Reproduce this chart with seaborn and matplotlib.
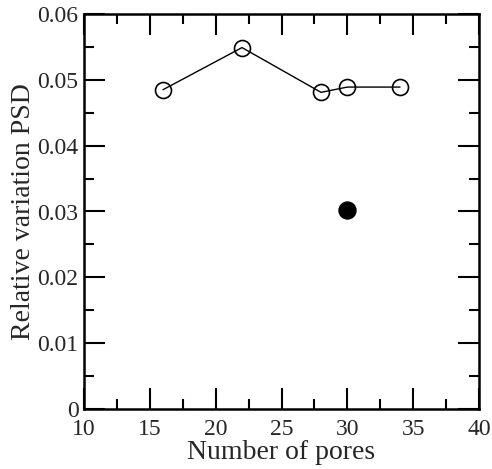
import matplotlib
matplotlib.use("Agg")
import matplotlib.pyplot as plt
from matplotlib.ticker import MultipleLocator, FuncFormatter
import pandas as pd
import seaborn as sns

# data
pores = [16, 22, 28, 30, 34]
rel_var = [0.0485, 0.0549, 0.0481, 0.0489, 0.0489]
single_pores = [30]
single_var = [0.0302]

df = pd.DataFrame({"pores": pores, "var": rel_var})
df_single = pd.DataFrame({"pores": single_pores, "var": single_var})

sns.set_style("ticks")
plt.rcParams["font.family"] = ["Liberation Serif", "DejaVu Serif"]

fig = plt.figure(figsize=(4.92, 4.69), dpi=100)
ax = fig.add_axes([84 / 492, 1 - 409 / 469, 395 / 492, 395 / 469])

sns.lineplot(data=df, x="pores", y="var", ax=ax, color="black", lw=1,
             marker="o", markersize=11.5, markerfacecolor="none",
             markeredgecolor="black", markeredgewidth=1.2)
sns.scatterplot(data=df_single, x="pores", y="var", ax=ax, color="black",
                s=150, edgecolor="black")

ax.set_xlim(10, 40)
ax.set_ylim(0, 0.06)
ax.xaxis.set_major_locator(MultipleLocator(5))
ax.xaxis.set_minor_locator(MultipleLocator(2.5))
ax.yaxis.set_major_locator(MultipleLocator(0.01))
ax.yaxis.set_minor_locator(MultipleLocator(0.005))
ax.yaxis.set_major_formatter(FuncFormatter(lambda v, p: "0" if abs(v) < 1e-9 else f"{v:.2f}"))

ax.tick_params(which="both", direction="in", top=True, right=True,
               width=1.5, labelsize=17, color="black")
ax.tick_params(which="major", length=15)
ax.tick_params(which="minor", length=7)
ax.tick_params(axis="x", pad=7)
ax.tick_params(axis="y", pad=4)
for sp in ax.spines.values():
    sp.set_linewidth(1.8)
    sp.set_color("black")

ax.set_xlabel("Number of pores", fontsize=20, labelpad=0)
ax.set_ylabel("Relative variation PSD", fontsize=20, labelpad=1)

fig.savefig("out.png", dpi=100)
